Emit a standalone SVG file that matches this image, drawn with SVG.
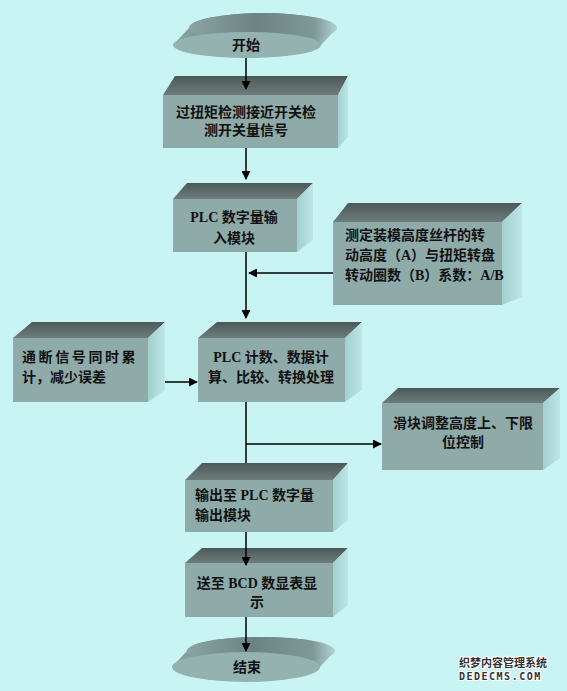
<svg xmlns="http://www.w3.org/2000/svg" width="567" height="691" viewBox="0 0 567 691">
<defs>
<linearGradient id="topg" x1="0" y1="0" x2="0" y2="1">
<stop offset="0" stop-color="#4d5959"/><stop offset="1" stop-color="#6d7c7c"/>
</linearGradient>
<linearGradient id="sideg" x1="0" y1="0" x2="1" y2="0">
<stop offset="0" stop-color="#a3cfcf"/><stop offset="1" stop-color="#bde6e6"/>
</linearGradient>
<linearGradient id="ellg" x1="0" y1="0" x2="1" y2="0">
<stop offset="0" stop-color="#8aa3a3"/><stop offset="0.45" stop-color="#6c8383"/><stop offset="0.85" stop-color="#7e9898"/><stop offset="1" stop-color="#b3d2d2"/>
</linearGradient>
<marker id="ah" viewBox="0 0 10 10" refX="9" refY="5" markerWidth="9" markerHeight="9" markerUnits="userSpaceOnUse" orient="auto">
<path d="M0,0 L10,5 L0,10 Z" fill="#000"/>
</marker>
<style>
.front{fill:#8eaba9;}
.top{fill:url(#topg);}
.side{fill:url(#sideg);}
.ell{fill:#93b2b0;}
.ellback{fill:url(#ellg);}
text{font-family:"Liberation Serif","Noto Sans CJK SC",serif;font-weight:bold;font-size:14px;fill:#111;}
.c{text-anchor:middle;}
.ln{stroke:#000;stroke-width:1.5;fill:none;}
.arr{stroke:#000;stroke-width:1.5;fill:none;marker-end:url(#ah);}
.wm{font-family:"Noto Sans CJK SC",sans-serif;font-size:11px;fill:#333;stroke:#fff;stroke-width:2;paint-order:stroke;}
.wm2{font-family:"DejaVu Sans Mono",monospace;font-size:10px;fill:#333;stroke:#fff;stroke-width:2;paint-order:stroke;letter-spacing:1.5px;}
</style>
</defs>
<rect width="567" height="691" fill="#c8f5f4"/>

<g id="start">
<path class="ellback" d="M173,45 L189,28 A74 15 0 0 1 337,28 L321,45 Z"/>
<ellipse class="ellback" cx="263" cy="28" rx="74" ry="15"/>
<ellipse class="ell" cx="247" cy="45" rx="74" ry="13"/>
<text class="c" x="246" y="50">开始</text>
</g>

<g id="box1">
<polygon class="top" points="163,95 175,76 348,76 338,95"/>
<polygon class="side" points="338,95 348,76 348,137 338,148"/>
<rect class="front" x="163" y="95" width="175" height="53"/>
<text class="c" x="246" y="117">过扭矩检测接近开关检</text>
<text class="c" x="246" y="135">测开关量信号</text>
</g>

<g id="box2">
<polygon class="top" points="173,199 187,183 313,183 297,199"/>
<polygon class="side" points="297,199 313,183 313,240 297,252"/>
<rect class="front" x="173" y="199" width="124" height="53"/>
<text class="c" x="234" y="222">PLC 数字量输</text>
<text class="c" x="234" y="243">入模块</text>
</g>

<g id="box_ratio">
<polygon class="top" points="333,222 348,203 522,203 502,222"/>
<polygon class="side" points="502,222 522,203 522,297 502,305"/>
<rect class="front" x="333" y="222" width="169" height="83"/>
<text x="345" y="240">测定装模高度丝杆的转</text>
<text x="345" y="260">动高度（A）与扭矩转盘</text>
<text x="345" y="280">转动圈数（B）系数：A/B</text>
</g>

<g id="box_left">
<polygon class="top" points="13,338 32,322 165,322 148,338"/>
<polygon class="side" points="148,338 165,322 165,390 148,402"/>
<rect class="front" x="13" y="338" width="135" height="64"/>
<text x="22" y="362" style="letter-spacing:2.6px">通断信号同时累</text>
<text x="22" y="382">计，减少误差</text>
</g>

<g id="box_center">
<polygon class="top" points="198,338 217,322 362,322 345,338"/>
<polygon class="side" points="345,338 362,322 362,390 345,402"/>
<rect class="front" x="198" y="338" width="147" height="64"/>
<text class="c" x="271" y="362">PLC 计数、数据计</text>
<text class="c" x="271" y="382">算、比较、转换处理</text>
</g>

<g id="box_limit">
<polygon class="top" points="382,403 398,388 560,388 543,403"/>
<polygon class="side" points="543,403 560,388 560,458 543,470"/>
<rect class="front" x="382" y="403" width="161" height="67"/>
<text class="c" x="463" y="428">滑块调整高度上、下限</text>
<text class="c" x="463" y="447">位控制</text>
</g>

<g id="box_out">
<polygon class="top" points="185,480 202,463 348,463 333,480"/>
<polygon class="side" points="333,480 348,463 348,520 333,532"/>
<rect class="front" x="185" y="480" width="148" height="52"/>
<text x="195" y="500">输出至 PLC 数字量</text>
<text x="195" y="520">输出模块</text>
</g>

<g id="box_bcd">
<polygon class="top" points="185,563 202,548 348,548 333,563"/>
<polygon class="side" points="333,563 348,548 348,605 333,617"/>
<rect class="front" x="185" y="563" width="148" height="54"/>
<text class="c" x="257" y="588">送至 BCD 数显表显</text>
<text class="c" x="257" y="607">示</text>
</g>

<g id="end">
<path class="ellback" d="M172,667 L187,651 A74 14 0 0 1 335,651 L320,667 Z"/>
<ellipse class="ellback" cx="261" cy="651" rx="74" ry="14"/>
<ellipse class="ell" cx="246" cy="667" rx="74" ry="15"/>
<text class="c" x="247" y="672">结束</text>
</g>

<g id="connectors">
<line class="arr" x1="246" y1="58" x2="246" y2="89"/>
<line class="arr" x1="246" y1="148" x2="246" y2="179"/>
<line class="arr" x1="246" y1="252" x2="246" y2="318"/>
<line class="arr" x1="333" y1="273" x2="249" y2="273"/>
<line class="arr" x1="165" y1="382" x2="197" y2="382"/>
<line class="ln" x1="246" y1="402" x2="246" y2="463"/>
<line class="arr" x1="246" y1="444" x2="381" y2="444"/>
<line class="arr" x1="246" y1="532" x2="246" y2="565"/>
<line class="arr" x1="246" y1="617" x2="246" y2="651"/>
</g>

<g id="watermark">
<text class="wm" x="459" y="667">织梦内容管理系统</text>
<text class="wm2" x="459" y="680">DEDECMS.COM</text>
</g>
</svg>
